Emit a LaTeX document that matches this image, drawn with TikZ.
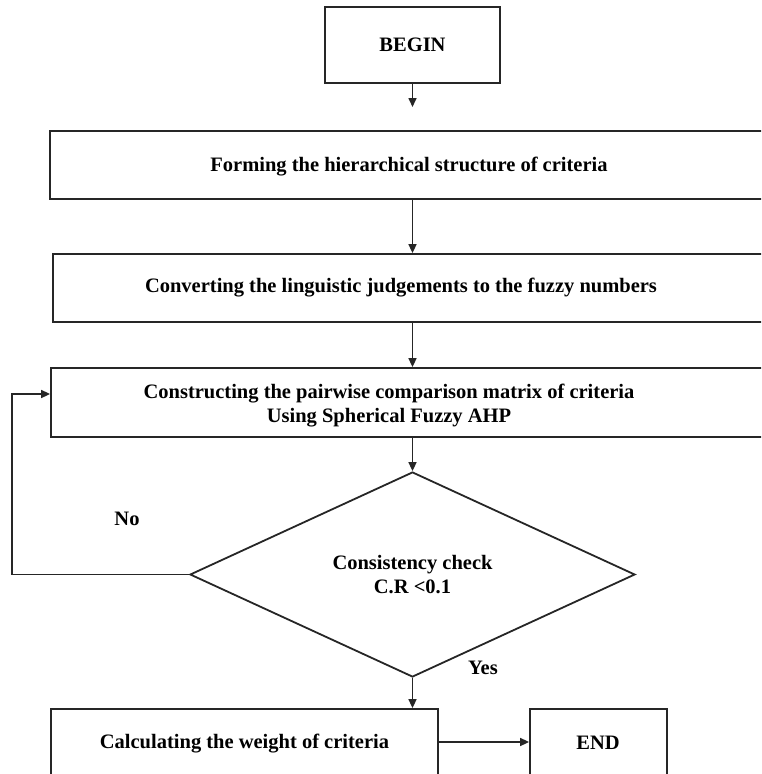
\documentclass[tikz,border=0pt]{standalone}
\usepackage{fontspec}
\setmainfont{Liberation Serif}
\usetikzlibrary{arrows.meta,shapes.geometric}
\begin{document}
\begin{tikzpicture}[x=1pt,y=-1pt,
  box/.style={draw=black!85,line width=1.8pt,inner sep=0pt},
  lbl/.style={font=\fontsize{20.5}{24}\selectfont\bfseries,align=center,inner sep=0pt},
  arr/.style={draw=black!85,line width=1.6pt,-{Triangle[length=9pt,width=8pt]}},
  ln/.style={draw=black!85,line width=1.6pt}]
\useasboundingbox (0,0) rectangle (761,774);
\clip (0,0) rectangle (761,774);
% boxes
\node[box,lbl,minimum width=175pt,minimum height=76pt] (begin) at (412.5,45) {BEGIN};
\node[box,minimum width=740pt,minimum height=68pt] (b2) at (420,165) {};
\node[box,minimum width=737pt,minimum height=68pt] (b3) at (421.5,288) {};
\node[box,minimum width=739pt,minimum height=69pt] (b4) at (420.5,402.5) {};
\node[box,lbl,diamond,minimum width=445pt,minimum height=205pt] (d) at (412.5,574.5) {Consistency check\\C.R {<}0.1};
\node[box,minimum width=387pt,minimum height=91pt] (b5) at (244.5,754.5) {};
\node[box,minimum width=137pt,minimum height=91pt] (end) at (598.5,754.5) {};
% texts
\node[lbl] (t2) at (409,167) {Forming the hierarchical structure of criteria};
\node[lbl] (t3) at (401,288) {Converting the linguistic judgements to the fuzzy numbers};
\node[lbl] (t4) at (389,406) {Constructing the pairwise comparison matrix of criteria\\Using Spherical Fuzzy AHP};
\node[lbl] (t5) at (244.5,744) {Calculating the weight of criteria};
\node[lbl] (t6) at (598,743) {END};
\node[lbl] (yes) at (483,668) {Yes};
\node[lbl] (no) at (127,519) {No};
% connectors
\coordinate (spine) at (412.5,0);
\coordinate (bgend) at (412.5,107);
\coordinate (fb) at (12,394);
\coordinate (hz) at (0,742);
\draw[arr] (begin.south) -- (bgend);
\draw[arr] (b2.south -| spine) -- (b3.north -| spine);
\draw[arr] (b3.south -| spine) -- (b4.north -| spine);
\draw[arr] (b4.south -| spine) -- (d.north);
\draw[arr] (d.south) -- (b5.north -| spine);
\draw[arr] (b5.east |- hz) -- (end.west |- hz);
\draw[arr] (d.west) -| (fb) -- (b4.west |- fb);
\end{tikzpicture}
\end{document}
